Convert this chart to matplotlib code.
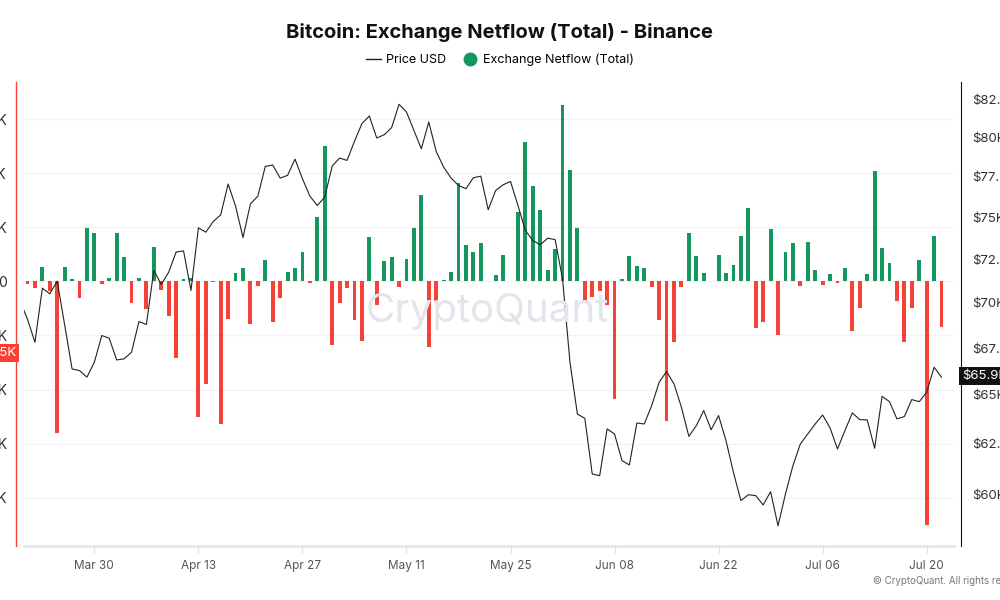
import numpy as np
import matplotlib
matplotlib.use("Agg")
import matplotlib.pyplot as plt
import matplotlib.dates as mdates
from matplotlib.lines import Line2D
from matplotlib.ticker import FixedLocator, FixedFormatter, NullLocator

# ---------------- data ----------------
title = "Bitcoin: Exchange Netflow (Total) - Binance"
price_start = "2024-03-20"
flow_start = "2024-03-21"

# Exchange netflow, thousands of BTC (daily, Mar 21 .. Jul 22)
netflow_k = [
    -0.55, -1.3, 2.7, -1.8, -28.0, 2.7, 0.45, -3.1, 9.9, 8.9,
    -0.45, 0.55, 8.9, 4.5, -4.1, 0.7, -5.2, 6.3, -1.6, -6.4,
    -14.2, 0.4, 0.7, -25.1, -19.0, -0.05, -26.4, -7.0, 1.6, 2.4,
    -7.9, -0.9, 3.9, -7.5, -3.1, 1.8, 2.4, 5.5, -0.25, 11.8,
    25.0, -11.8, -4.1, -1.3, -7.2, -11.0, 8.2, -4.3, 3.8, 4.5,
    -1.1, 4.1, 9.8, 16.0, -12.1, -3.6, 0.3, 1.8, 18.1, 6.8,
    5.5, 7.1, 0.05, 1.2, 4.9, 0.1, 12.8, 25.8, 17.7, 13.1,
    2.1, 6.0, 32.5, 20.5, 9.8, -3.9, -2.9, -1.8, -4.4, -21.8,
    0.45, 4.6, 2.8, 2.4, -1.1, -7.2, -25.9, -11.3, -1.1, 8.9,
    4.6, 1.5, 0.1, 4.9, 1.6, 3.0, 8.3, 13.5, -8.6, -7.5,
    9.7, -10.0, 5.4, 7.0, -0.8, 7.2, 2.1, -0.7, 1.4, -0.4,
    2.4, -9.2, -5.0, 1.4, 20.3, 6.1, 3.3, -3.6, -11.3, -5.0,
    4.0, -45.0, 8.4, -8.4,
]

# BTC price USD (daily, Mar 20 .. Jul 22)
price_usd = [
    70100,
    69090, 67820, 70840, 70520, 71240, 68780, 66380, 66290, 65940, 66740,
    68190, 68040, 66860, 66920, 67280, 68960, 68800, 71860, 71050, 71760,
    72930, 73000, 70710, 74370, 74110, 74750, 75150, 77040, 75680, 73790,
    75820, 76290, 78140, 78230, 77410, 77580, 78600, 77370, 76290, 75720,
    76230, 78160, 78670, 78520, 79730, 80880, 81380, 79950, 80160, 80620,
    82150, 81640, 80440, 79260, 80990, 79090, 78100, 77410, 76950, 76750,
    77430, 77530, 75460, 76640, 76990, 77200, 75720, 74210, 73620, 73360,
    73750, 73670, 71380, 66740, 64010, 63790, 60990, 60910, 63250, 62990,
    61650, 61440, 63550, 63500, 64450, 65670, 66240, 65580, 64360, 62870,
    63410, 64190, 63210, 63930, 62650, 61070, 59700, 59980, 59940, 59490,
    60130, 58500, 60020, 61400, 62480, 62990, 63500, 63960, 63300, 62230,
    63160, 64070, 63720, 63710, 62270, 64930, 64650, 63760, 63880, 64760,
    64650, 65140, 66470, 65940,
]

x_tick_dates = ["2024-03-30", "2024-04-13", "2024-04-27", "2024-05-11", "2024-05-25",
                "2024-06-08", "2024-06-22", "2024-07-06", "2024-07-20"]
left_ticks = [30, 20, 10, 0, -10, -20, -30, -40]
left_labels = ["30K", "20K", "10K", "0", "-10K", "-20K", "-30K", "-40K"]
right_ticks = [60000, 62500, 65000, 67500, 70000, 72500, 75000, 77500, 80000, 82500]
right_labels = ["$60K", "$62.5K", "$65K", "$67.5K", "$70K", "$72.5K", "$75K", "$77.5K", "$80K", "$82.5K"]

# ---------------- style ----------------
GREEN = "#16965f"
RED = "#f44336"
plt.rcParams["font.family"] = ["Inter", "DejaVu Sans"]

d_flow = mdates.date2num(np.arange(np.datetime64(flow_start), np.datetime64(flow_start) + len(netflow_k)))
d_price = mdates.date2num(np.arange(np.datetime64(price_start), np.datetime64(price_start) + len(price_usd)))

fig = plt.figure(figsize=(10, 6), dpi=100)
ax = fig.add_axes([0.024, 0.09, 0.930, 0.7733])

colors = [GREEN if v >= 0 else RED for v in netflow_k]
ax.bar(d_flow, netflow_k, width=0.52, color=colors, zorder=3)

x0 = mdates.date2num(np.datetime64(flow_start)) - 0.47
x1 = mdates.date2num(np.datetime64(flow_start)) + 124.68
ax.set_xlim(x0, x1)
ax.set_ylim(-48.93, 36.84)

ax.yaxis.set_major_locator(FixedLocator(left_ticks))
ax.yaxis.set_major_formatter(FixedFormatter(left_labels))
ax.tick_params(axis="y", length=0, pad=6.5, labelsize=10, labelcolor="#333333")
ax.grid(axis="y", color="#f2f2f2", lw=1, zorder=0)
ax.grid(axis="x", visible=False)

xt = mdates.date2num(np.array(x_tick_dates, dtype="datetime64[D]"))
ax.set_xticks(xt)
ax.xaxis.set_major_formatter(mdates.DateFormatter("%b %d"))
ax.tick_params(axis="x", length=5, color="#e0e0e0", pad=5, labelsize=8.5, labelcolor="#555555")

for s in ["top", "right"]:
    ax.spines[s].set_visible(False)
ax.spines["bottom"].set_color("#e6e6e6")
ax.spines["bottom"].set_linewidth(2)
ax.spines["left"].set_color(RED)
ax.spines["left"].set_position(("outward", 6))
ax.spines["left"].set_linewidth(1)

# price axis
ax2 = ax.twinx()
ax2.plot(d_price, price_usd, color="#222222", lw=0.8, zorder=4)
ax2.set_yscale("log")
ax2.set_ylim(57555, 83638)
ax2.yaxis.set_major_locator(FixedLocator(right_ticks))
ax2.yaxis.set_major_formatter(FixedFormatter(right_labels))
ax2.yaxis.set_minor_locator(NullLocator())
ax2.tick_params(axis="y", length=0, pad=8, labelsize=9.5, labelcolor="#333333")
for s in ["top", "left", "bottom"]:
    ax2.spines[s].set_visible(False)
ax2.spines["right"].set_color("#111111")
ax2.spines["right"].set_position(("outward", 5))
ax2.set_xlim(x0, x1)

# watermark
fig.text(0.487, 1 - 312 / 600, "CryptoQuant", fontsize=29, color="#e4e4ec",
         ha="center", va="center", zorder=0)

# title & legend
fig.text(0.5, 1 - 32 / 600, title, ha="center", va="center", fontsize=14.5, fontweight="bold", color="#111111")
handles = [Line2D([], [], color="#222222", lw=1),
           Line2D([], [], color=GREEN, marker="o", lw=0, markersize=9)]
fig.legend(handles, ["Price USD", "Exchange Netflow (Total)"], loc="center",
           bbox_to_anchor=(0.5, 1 - 60 / 600), ncol=2, frameon=False, fontsize=9,
           handlelength=1.2, handletextpad=0.4, columnspacing=1.3)

# value markers
fig.text(16 / 1000, 1 - 353 / 600, "-13.25K", ha="right", va="center", fontsize=9.5, color="white",
         bbox=dict(boxstyle="square,pad=0.25", fc=RED, ec="none"))
fig.text(962 / 1000, 1 - 376 / 600, "$65.9K", ha="left", va="center", fontsize=9.5, color="white",
         bbox=dict(boxstyle="square,pad=0.25", fc="#111111", ec="none"))

fig.text(873 / 1000, 1 - 581 / 600, "\u00a9 CryptoQuant. All rights reserved.", ha="left", va="center",
         fontsize=7, color="#777777")

fig.savefig("out.png", dpi=100)
